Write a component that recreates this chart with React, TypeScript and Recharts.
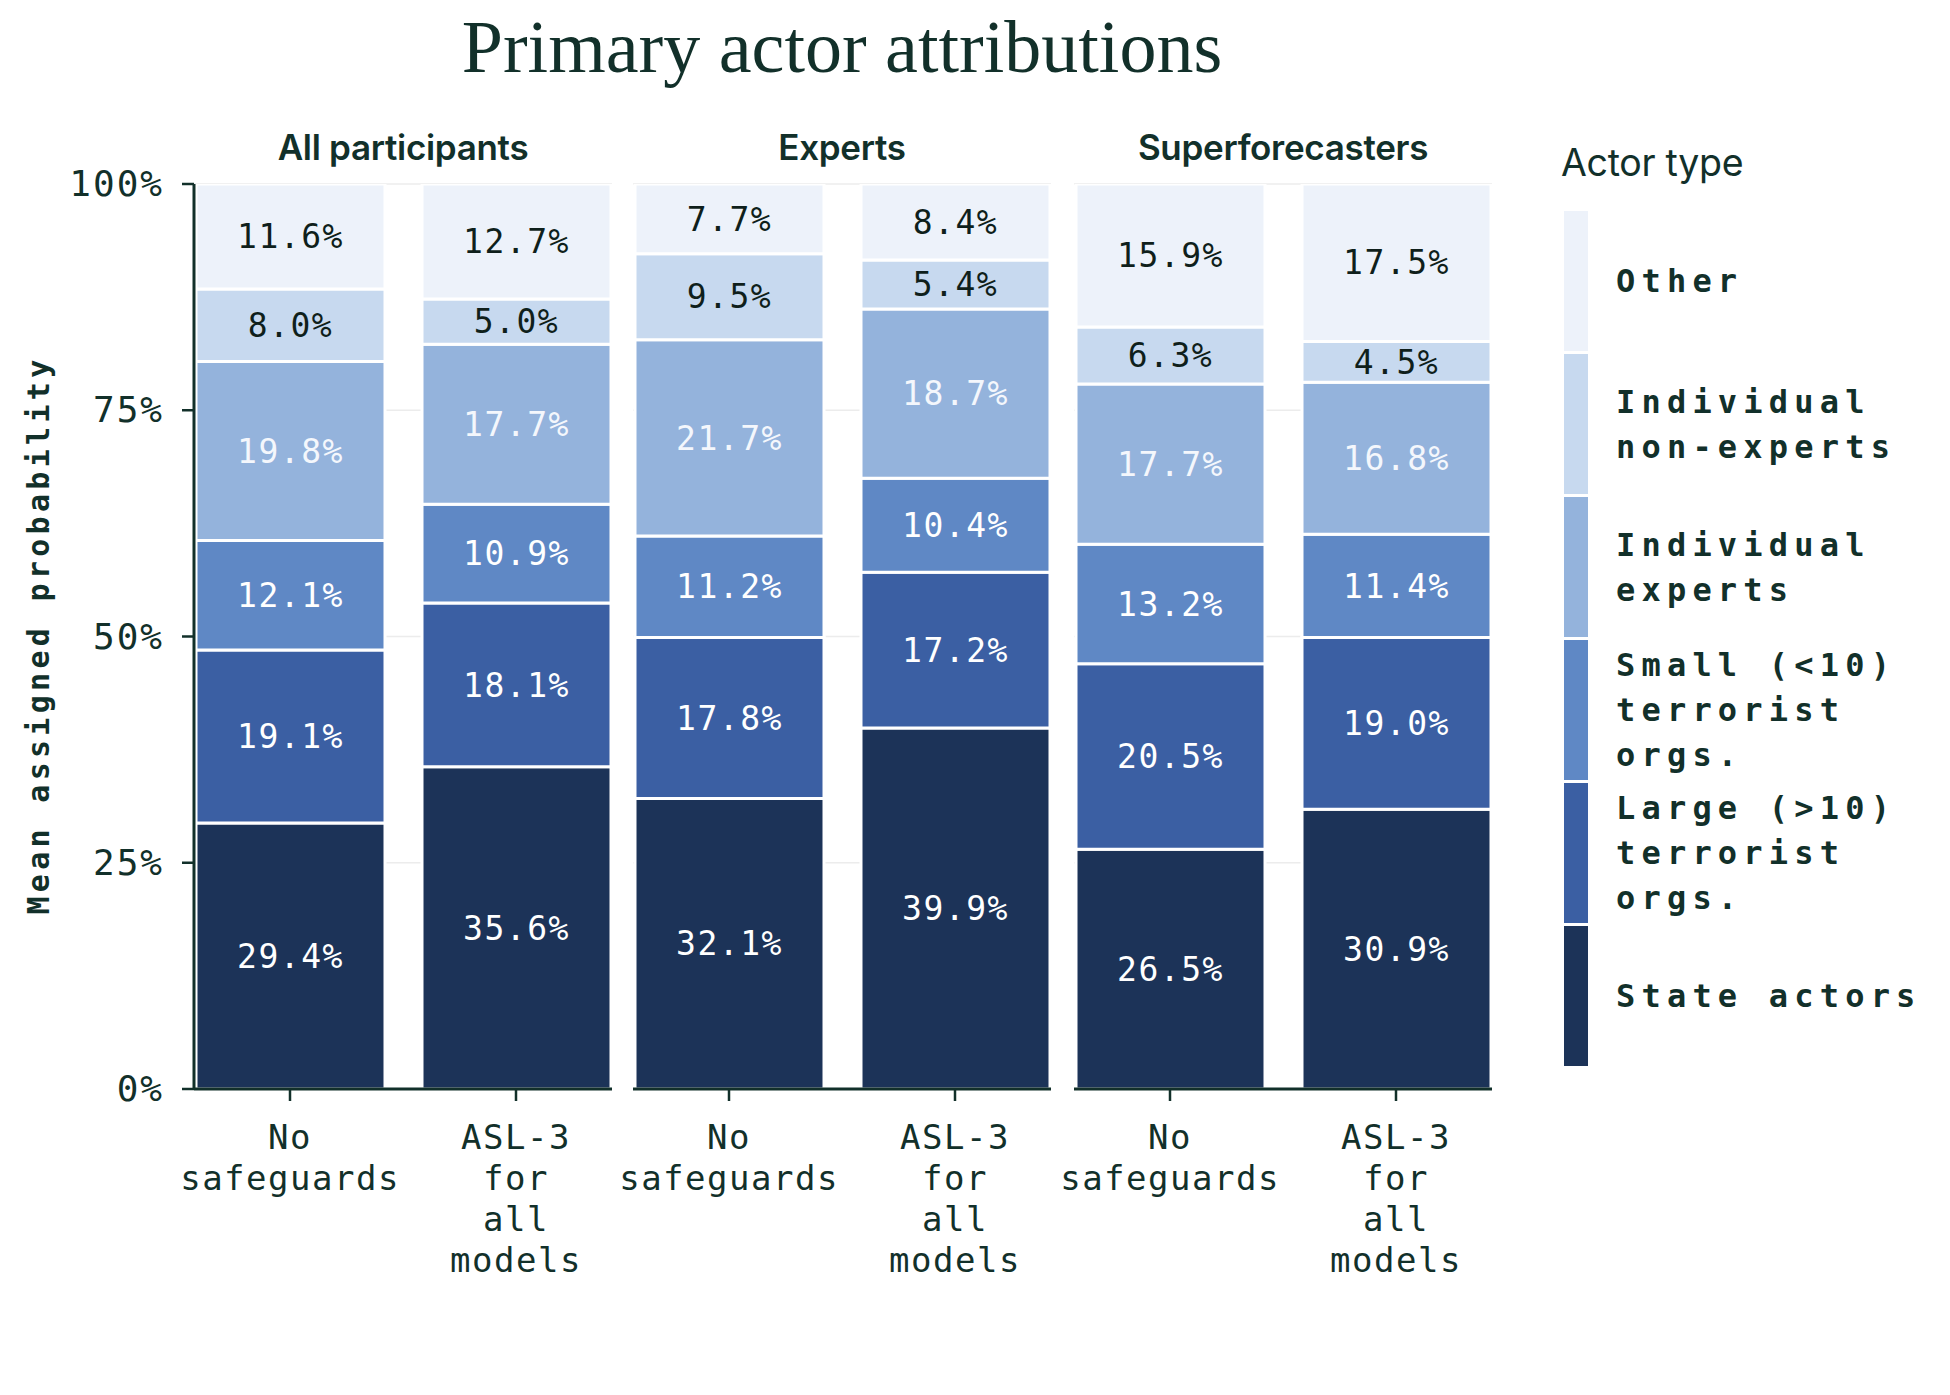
import React from 'react';
import { BarChart, Bar, XAxis, YAxis, CartesianGrid, LabelList } from 'recharts';

// ---------- data ----------
const panelTitles = ['All participants', 'Experts', 'Superforecasters'];
const conditions = ['No safeguards', 'ASL-3 for all models'];
const conditionTickLines: Record<string, string[]> = {
  'No safeguards': ['No', 'safeguards'],
  'ASL-3 for all models': ['ASL-3', 'for', 'all', 'models'],
};
const yTicks = [0, 25, 50, 75, 100];
const yTickLabels = ['0%', '25%', '50%', '75%', '100%'];

// order: All-No, All-ASL3, Experts-No, Experts-ASL3, Super-No, Super-ASL3
const stateActors = [29.4, 35.6, 32.1, 39.9, 26.5, 30.9];
const largeOrgs = [19.1, 18.1, 17.8, 17.2, 20.5, 19.0];
const smallOrgs = [12.1, 10.9, 11.2, 10.4, 13.2, 11.4];
const individualExperts = [19.8, 17.7, 21.7, 18.7, 17.7, 16.8];
const individualNonExperts = [8.0, 5.0, 9.5, 5.4, 6.3, 4.5];
const otherActors = [11.6, 12.7, 7.7, 8.4, 15.9, 17.5];

const seriesKeys = ['state', 'large', 'small', 'experts', 'nonexperts', 'other'];
const seriesValues = [stateActors, largeOrgs, smallOrgs, individualExperts, individualNonExperts, otherActors];
const legendTitle = 'Actor type';
const legendLines = [
  ['State actors'],
  ['Large (>10)', 'terrorist', 'orgs.'],
  ['Small (<10)', 'terrorist', 'orgs.'],
  ['Individual', 'experts'],
  ['Individual', 'non-experts'],
  ['Other'],
];

// ---------- styles ----------
const seriesColors = ['#1c3358', '#3b5fa3', '#5f88c5', '#94b3dc', '#c7d9ef', '#edf2fa'];
const labelColors = ['#ffffff', '#ffffff', '#ffffff', '#f4f7fc', '#0f1f1b', '#0f1f1b'];
const INK = '#12302a';
const MONO = '"DejaVu Sans Mono", monospace';
const SANS = 'Inter, "Noto Sans", sans-serif';

const CHART_H = 1395;
const PLOT_TOP = 184;
const PLOT_BOTTOM = 1089;
const XAXIS_H = 120;
const PLOT_W = 418;

const panelLayout = [
  { plotLeft: 194, yAxis: true },
  { plotLeft: 633, yAxis: false },
  { plotLeft: 1074, yAxis: false },
];
const SIDE = 80;

const buildPanelData = (p: number) =>
  conditions.map((c, ci) => {
    const row: Record<string, any> = { condition: c };
    seriesKeys.forEach((k, si) => {
      row[k] = seriesValues[si][p * 2 + ci];
    });
    return row;
  });

const XTick = (props: any) => {
  const { x, y, payload } = props;
  const lines = conditionTickLines[payload.value] || [payload.value];
  return (
    <g transform={`translate(${x},${y})`}>
      {lines.map((ln, i) => (
        <text
          key={i}
          x={0}
          y={34 + i * 41}
          dy={12}
          textAnchor="middle"
          fill={INK}
          fontFamily={MONO}
          fontSize={34}
          letterSpacing={1.5}
        >
          {ln}
        </text>
      ))}
    </g>
  );
};

const YTick = (props: any) => {
  const { x, y, payload } = props;
  const idx = yTicks.indexOf(payload.value);
  return (
    <text
      x={x}
      y={y}
      dy={12}
      textAnchor="end"
      fill={INK}
      fontFamily={MONO}
      fontSize={36}
      letterSpacing={2}
    >
      {idx >= 0 ? yTickLabels[idx] : payload.value}
    </text>
  );
};

const fmt = (v: any) => `${Number(v).toFixed(1)}%`;

const Panel = ({ p }: { p: number }) => {
  const lay = panelLayout[p];
  const data = buildPanelData(p);
  const left = lay.yAxis ? 0 : lay.plotLeft - SIDE;
  const ml = lay.yAxis ? 0 : SIDE;
  const width = lay.yAxis ? lay.plotLeft + PLOT_W + 10 : SIDE + PLOT_W + 10;
  return (
    <div style={{ position: 'absolute', left, top: 0 }}>
      <BarChart
        width={width}
        height={CHART_H}
        data={data}
        margin={{ top: PLOT_TOP, right: 10, bottom: CHART_H - PLOT_BOTTOM - XAXIS_H, left: ml }}
        barSize={189}
      >
        <CartesianGrid vertical={false} stroke="#ececec" strokeWidth={1.5} />
        <XAxis
          dataKey="condition"
          height={XAXIS_H}
          padding={{ left: -17, right: -17 }}
          axisLine={{ stroke: INK, strokeWidth: 3 }}
          tickLine={{ stroke: INK, strokeWidth: 2.5 }}
          tickSize={12}
          tick={<XTick />}
          interval={0}
        />
        <YAxis
          hide={!lay.yAxis}
          width={lay.plotLeft}
          domain={[0, 100]}
          allowDataOverflow
          ticks={yTicks}
          axisLine={{ stroke: INK, strokeWidth: 3 }}
          tickLine={{ stroke: INK, strokeWidth: 2.5 }}
          tickSize={12}
          tickMargin={18}
          tick={<YTick />}
        />
        {seriesKeys.map((k, si) => (
          <Bar
            key={k}
            dataKey={k}
            stackId="a"
            fill={seriesColors[si]}
            stroke="#ffffff"
            strokeWidth={3}
            isAnimationActive={false}
          >
            <LabelList
              dataKey={k}
              position="center"
              formatter={fmt}
              fill={labelColors[si]}
              fontFamily={MONO}
              fontSize={33}
              letterSpacing={1.5}
            />
          </Bar>
        ))}
      </BarChart>
    </div>
  );
};

const Legend = () => {
  const x0 = 1564;
  const top = 211;
  const pitch = 143;
  const sw = 24;
  const sh = 140;
  const order = [5, 4, 3, 2, 1, 0];
  return (
    <svg style={{ position: 'absolute', left: 0, top: 0 }} width={1950} height={1395}>
      <text x={1561} y={176} fill={INK} fontFamily={SANS} fontSize={37.5} fontWeight={400} letterSpacing={-0.3}>
        {legendTitle}
      </text>
      {order.map((si, i) => {
        const y = top + i * pitch;
        const cy = y + sh / 2;
        const lines = legendLines[si];
        const lh = 45;
        const startY = cy - ((lines.length - 1) * lh) / 2;
        return (
          <g key={si}>
            <rect x={x0} y={y} width={sw} height={sh} fill={seriesColors[si]} />
            {lines.map((ln, li) => (
              <text
                key={li}
                x={1616}
                y={startY + li * lh}
                dy={11}
                fill={INK}
                fontFamily={MONO}
                fontWeight={700}
                fontSize={32}
                letterSpacing={6.2}
              >
                {ln}
              </text>
            ))}
          </g>
        );
      })}
    </svg>
  );
};

export default function App() {
  return (
    <div
      style={{
        position: 'absolute',
        left: 0,
        top: 0,
        width: 1950,
        height: 1395,
        background: '#ffffff',
        overflow: 'hidden',
      }}
    >
      <div
        style={{
          position: 'absolute',
          left: 0,
          width: 1684,
          top: 2,
          textAlign: 'center',
          fontFamily: '"Liberation Serif", "DejaVu Serif", serif',
          fontSize: 74,
          color: INK,
          letterSpacing: 0,
          lineHeight: '90px',
        }}
      >
        Primary actor attributions
      </div>
      {panelTitles.map((t, p) => {
        const lay = panelLayout[p];
        const cx = lay.plotLeft + PLOT_W / 2;
        return (
          <div
            key={t}
            style={{
              position: 'absolute',
              left: cx - 250,
              width: 500,
              top: 125,
              textAlign: 'center',
              fontFamily: SANS,
              fontWeight: 600,
              fontSize: 35,
              color: INK,
              lineHeight: '44px',
              letterSpacing: -0.3,
            }}
          >
            {t}
          </div>
        );
      })}
      <div
        style={{
          position: 'absolute',
          left: 39 - 400,
          top: 635 - 20,
          width: 800,
          height: 40,
          lineHeight: '40px',
          textAlign: 'center',
          transform: 'rotate(-90deg)',
          fontFamily: MONO,
          fontWeight: 700,
          fontSize: 30,
          letterSpacing: 4.3,
          color: INK,
        }}
      >
        Mean assigned probability
      </div>
      {panelTitles.map((t, p) => (
        <Panel key={t} p={p} />
      ))}
      <Legend />
    </div>
  );
}
